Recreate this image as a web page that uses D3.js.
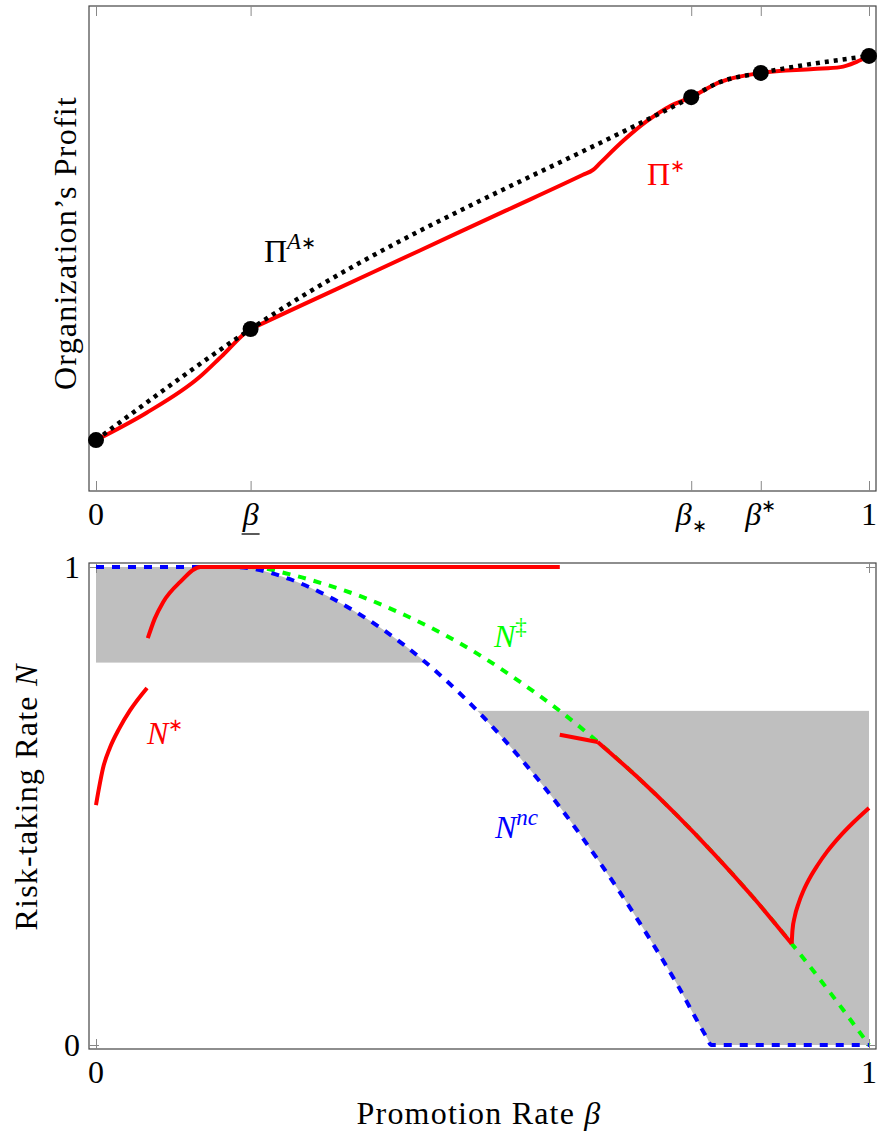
<!DOCTYPE html>
<html>
<head>
<meta charset="utf-8">
<script src="https://cdn.jsdelivr.net/npm/d3@7"></script>
<style>
  body { margin: 0; background: #fff; }
</style>
</head>
<body>
<div id="chart"></div>
<script>
// ---- data: top panel (organization's profit) ----
const markBeta = [0, 0.2, 0.77, 0.86, 1];
const markProfit = [0.105, 0.334, 0.812, 0.862, 0.897];

const piABeta = [0, 0.2, 0.77, 0.807, 0.86, 1];
const piAProfit = [0.105, 0.334, 0.812, 0.843, 0.862, 0.897];

const piStarBeta = [0, 0.065, 0.134, 0.164, 0.2, 0.21, 0.30, 0.419, 0.53, 0.63, 0.643, 0.652, 0.682, 0.713, 0.743, 0.77, 0.807, 0.86, 0.928, 0.963, 0.984, 1];
const piStarProfit = [0.105, 0.161, 0.235, 0.280, 0.334, 0.3415, 0.408, 0.496, 0.578, 0.652, 0.662, 0.676, 0.722, 0.763, 0.794, 0.812, 0.843, 0.862, 0.870, 0.874, 0.885, 0.897];

const topTickValues = [0, 0.2, 0.77, 0.86, 1];
const topTickLabels = [
    [{ t: "0" }],
    [{ t: "β", i: 1, u: 1 }],
    [{ t: "β", i: 1 }, { t: "∗", sub: 1 }],
    [{ t: "β", i: 1 }, { t: "∗", sup: 1 }],
    [{ t: "1" }]
];

// ---- data: bottom panel (risk-taking rate) ----
const ncBeta = [0, 0.18, 0.2, 0.25, 0.3, 0.35, 0.4, 0.45, 0.5, 0.55, 0.6, 0.65, 0.7, 0.75, 0.79, 0.796, 1];
const ncRate = [1, 1, 0.997, 0.975, 0.939, 0.892, 0.835, 0.767, 0.688, 0.598, 0.498, 0.386, 0.264, 0.132, 0.016, 0, 0];

const ddBeta = [0.18, 0.2, 0.25, 0.3, 0.35, 0.4, 0.45, 0.5, 0.55, 0.6, 0.65, 0.7, 0.75, 0.8, 0.85, 0.9, 0.95, 1];
const ddRate = [1, 1, 0.985, 0.962, 0.934, 0.899, 0.859, 0.812, 0.758, 0.699, 0.633, 0.561, 0.483, 0.399, 0.309, 0.212, 0.109, 0];

// N* pieces
const nStar1Beta = [0, 0.01, 0.018, 0.03, 0.044, 0.066];
const nStar1Rate = [0.502, 0.585, 0.622, 0.662, 0.700, 0.747];
const nStar2Beta = [0.067, 0.076, 0.087, 0.109, 0.135, 0.60];
const nStar2Rate = [0.851, 0.892, 0.927, 0.969, 1, 1];
const nStar3Beta = [0.600, 0.649];
const nStar3Rate = [0.649, 0.634];
const nStar4Beta = [0.649, 0.7, 0.75, 0.8, 0.85, 0.9];
const nStar4Rate = [0.634, 0.561, 0.483, 0.399, 0.309, 0.212];
const nStar5Beta = [0.9, 0.901, 0.904, 0.909, 0.915, 0.925, 0.933, 0.946, 0.962, 0.98, 1];
const nStar5Rate = [0.212, 0.240, 0.269, 0.297, 0.322, 0.354, 0.375, 0.405, 0.436, 0.466, 0.496];

// shaded bands: [lower, upper] rate, clipped by N^nc
const bandBelowNc = [0.80, 1];
const bandAboveNc = [0, 0.699];

const bottomTickValues = [0, 1];

// ---- layout ----
const W = 878, H = 1133;
const FS = 32;
const svg = d3.select("#chart").append("svg")
    .attr("width", W).attr("height", H)
    .attr("font-family", "'Liberation Serif', 'Times New Roman', serif");

const x = d3.scaleLinear().domain([0, 1]).range([96, 869]);
const yTop = d3.scaleLinear().domain([0, 1]).range([491, 6]);
const yBot = d3.scaleLinear().domain([0, 1]).range([1045, 567]);

const zip = (a, b) => a.map((v, i) => [v, b[i]]);

// text with italic parts and super/subscripts; "∗" is drawn smaller
function rich(sel, parts, size) {
    let shift = 0;
    parts.forEach(p => {
        const star = p.t.indexOf("∗") >= 0 && p.t.length === 1;
        const target = p.sup ? -0.42 * size : p.sub ? 0.22 * size : 0;
        sel.append("tspan")
            .attr("dy", target - shift)
            .attr("font-style", p.i ? "italic" : null)
            .attr("font-size", star ? size * 0.55 : (p.sup || p.sub) ? size * 0.72 : size)
            .text(p.t);
        shift = target;
    });
}

function frame(y0, y1) {
    svg.append("rect")
        .attr("x", 89).attr("y", y0)
        .attr("width", 787).attr("height", y1 - y0)
        .attr("fill", "none").attr("stroke", "#444").attr("stroke-width", 1.2);
}

function xTicks(vals, y0, y1) {
    const b = svg.append("g").attr("transform", `translate(0,${y1})`)
        .call(d3.axisBottom(x).tickValues(vals).tickSizeInner(-10).tickSizeOuter(0).tickFormat(""));
    const t = svg.append("g").attr("transform", `translate(0,${y0})`)
        .call(d3.axisTop(x).tickValues(vals).tickSizeInner(-10).tickSizeOuter(0).tickFormat(""));
    [b, t].forEach(g => {
        g.select(".domain").remove();
        g.selectAll("line").attr("stroke", "#888").attr("stroke-width", 1);
    });
}

const smooth = (xs, ys, yScale) =>
    d3.line().x(d => x(d[0])).y(d => yScale(d[1])).curve(d3.curveMonotoneX)(zip(xs, ys));

// ================= top panel =================
frame(6, 491);
xTicks(topTickValues, 6, 491);

svg.append("path")
    .attr("d", smooth(piStarBeta, piStarProfit, yTop))
    .attr("fill", "none").attr("stroke", "#ff0000").attr("stroke-width", 4);

svg.append("path")
    .attr("d", smooth(piABeta, piAProfit, yTop))
    .attr("fill", "none").attr("stroke", "#000").attr("stroke-width", 4.5)
    .attr("stroke-dasharray", "4,5");

svg.selectAll(".mark")
    .data(zip(markBeta, markProfit))
    .enter().append("circle")
    .attr("class", "mark")
    .attr("cx", d => x(d[0])).attr("cy", d => yTop(d[1]))
    .attr("r", 8).attr("fill", "#000");

topTickLabels.forEach((parts, i) => {
    const t = svg.append("text")
        .attr("x", x(topTickValues[i])).attr("y", 525)
        .attr("text-anchor", "middle").attr("font-size", FS);
    rich(t, parts, FS);
    if (parts[0].u) {
        svg.append("line")
            .attr("x1", x(topTickValues[i]) - 9).attr("x2", x(topTickValues[i]) + 9)
            .attr("y1", 534).attr("y2", 534)
            .attr("stroke", "#000").attr("stroke-width", 1.3);
    }
});

const lblA = svg.append("text").attr("x", 264).attr("y", 262).attr("font-size", FS);
rich(lblA, [{ t: "Π" }, { t: "A", i: 1, sup: 1 }, { t: "∗", sup: 1 }], FS);

const lblS = svg.append("text").attr("x", 647).attr("y", 185).attr("font-size", FS).attr("fill", "#ff0000");
rich(lblS, [{ t: "Π" }, { t: "∗", sup: 1 }], FS);

svg.append("text")
    .attr("transform", "translate(76,243) rotate(-90)")
    .attr("text-anchor", "middle").attr("font-size", FS)
    .attr("letter-spacing", 1.2)
    .text("Organization’s Profit");

// ================= bottom panel =================
const ncPts = zip(ncBeta, ncRate);

const defs = svg.append("defs");
defs.append("clipPath").attr("id", "belowNc").append("path")
    .attr("d", d3.area().x(d => x(d[0])).y0(yBot(0)).y1(d => yBot(d[1])).curve(d3.curveMonotoneX)(ncPts));
defs.append("clipPath").attr("id", "aboveNc").append("path")
    .attr("d", d3.area().x(d => x(d[0])).y0(d => yBot(d[1])).y1(yBot(1)).curve(d3.curveMonotoneX)(ncPts));

svg.append("rect")
    .attr("x", x(0)).attr("width", x(1) - x(0))
    .attr("y", yBot(bandBelowNc[1])).attr("height", yBot(bandBelowNc[0]) - yBot(bandBelowNc[1]))
    .attr("fill", "#bfbfbf").attr("clip-path", "url(#belowNc)");
svg.append("rect")
    .attr("x", x(0)).attr("width", x(1) - x(0))
    .attr("y", yBot(bandAboveNc[1])).attr("height", yBot(bandAboveNc[0]) - yBot(bandAboveNc[1]))
    .attr("fill", "#bfbfbf").attr("clip-path", "url(#aboveNc)");

frame(563, 1049);
xTicks(bottomTickValues, 563, 1049);
const yl = svg.append("g").attr("transform", "translate(89,0)")
    .call(d3.axisLeft(yBot).tickValues([0, 1]).tickSizeInner(-10).tickSizeOuter(0).tickFormat(""));
const yr = svg.append("g").attr("transform", "translate(876,0)")
    .call(d3.axisRight(yBot).tickValues([0, 1]).tickSizeInner(-10).tickSizeOuter(0).tickFormat(""));
[yl, yr].forEach(g => {
    g.select(".domain").remove();
    g.selectAll("line").attr("stroke", "#888").attr("stroke-width", 1);
});

svg.append("path")
    .attr("d", smooth(ddBeta, ddRate, yBot))
    .attr("fill", "none").attr("stroke", "#00ff00").attr("stroke-width", 4)
    .attr("stroke-dasharray", "8,8");

svg.append("path")
    .attr("d", smooth(ncBeta, ncRate, yBot))
    .attr("fill", "none").attr("stroke", "#0000ff").attr("stroke-width", 4)
    .attr("stroke-dasharray", "8,8");

const redPieces = [
    [nStar1Beta, nStar1Rate],
    [nStar2Beta, nStar2Rate],
    [nStar3Beta, nStar3Rate],
    [nStar4Beta, nStar4Rate],
    [nStar5Beta, nStar5Rate]
];
redPieces.forEach(p => {
    svg.append("path")
        .attr("d", smooth(p[0], p[1], yBot))
        .attr("fill", "none").attr("stroke", "#ff0000").attr("stroke-width", 4)
        .attr("stroke-linejoin", "round");
});

bottomTickValues.forEach(v => {
    svg.append("text")
        .attr("x", x(v)).attr("y", 1083)
        .attr("text-anchor", "middle").attr("font-size", FS)
        .text(String(v));
    svg.append("text")
        .attr("x", 80).attr("y", yBot(v) + 11)
        .attr("text-anchor", "end").attr("font-size", FS)
        .text(String(v));
});

const lN = svg.append("text").attr("x", 147).attr("y", 744).attr("font-size", FS).attr("fill", "#ff0000");
rich(lN, [{ t: "N", i: 1 }, { t: "∗", sup: 1 }], FS);
const lD = svg.append("text").attr("x", 494).attr("y", 647).attr("font-size", FS).attr("fill", "#00ff00");
rich(lD, [{ t: "N", i: 1 }, { t: "‡", sup: 1 }], FS);
const lC = svg.append("text").attr("x", 495).attr("y", 838).attr("font-size", FS).attr("fill", "#0000ff");
rich(lC, [{ t: "N", i: 1 }, { t: "nc", i: 1, sup: 1 }], FS);

const xl = svg.append("text").attr("x", 479).attr("y", 1124)
    .attr("text-anchor", "middle").attr("font-size", FS)
    .attr("letter-spacing", 1.2);
rich(xl, [{ t: "Promotion Rate " }, { t: "β", i: 1 }], FS);

const ylb = svg.append("text").attr("transform", "translate(37,797) rotate(-90)")
    .attr("text-anchor", "middle").attr("font-size", FS)
    .attr("letter-spacing", 1.2);
rich(ylb, [{ t: "Risk-taking Rate " }, { t: "N", i: 1 }], FS);
</script>
</body>
</html>
